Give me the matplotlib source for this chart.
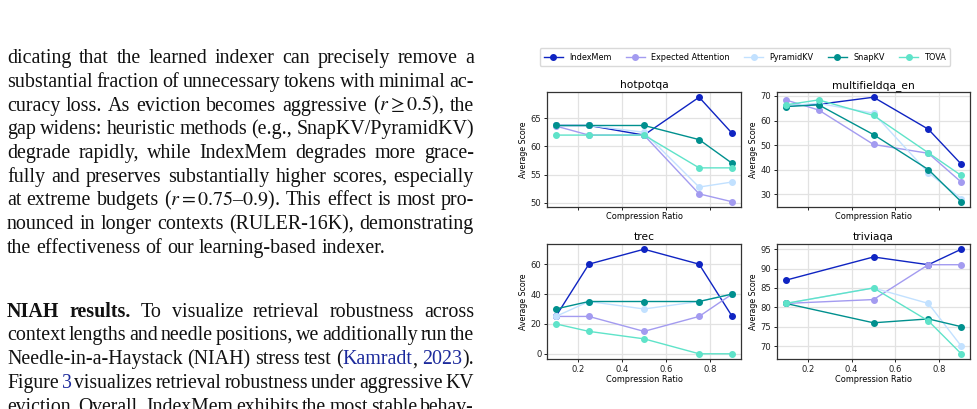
import re
import matplotlib
matplotlib.use("Agg")
import matplotlib.pyplot as plt
from matplotlib.lines import Line2D

# ---------------- data ----------------
methods = ["IndexMem", "Expected Attention", "PyramidKV", "SnapKV", "TOVA"]
colors = ["#0f24c2", "#a39bf0", "#c2e1ff", "#00908e", "#5fe3c9"]

x_main = [0.1, 0.25, 0.5, 0.75, 0.9]
x_trivia = [0.1, 0.5, 0.75, 0.9]

hotpotqa = {
    "IndexMem": [63.7, 63.7, 62.0, 68.7, 62.3],
    "Expected Attention": [63.6, 62.0, 62.0, 51.6, 50.2],
    "PyramidKV": [63.7, 63.7, 62.5, 52.8, 53.7],
    "SnapKV": [63.7, 63.7, 63.7, 61.2, 57.0],
    "TOVA": [62.0, 62.0, 62.0, 56.2, 56.2],
}
multifieldqa_en = {
    "IndexMem": [66.0, 66.6, 69.5, 56.5, 42.3],
    "Expected Attention": [68.4, 64.3, 50.3, 46.7, 35.0],
    "PyramidKV": [66.0, 67.0, 63.0, 38.8, 28.3],
    "SnapKV": [65.7, 66.4, 54.3, 40.1, 27.0],
    "TOVA": [66.4, 68.4, 62.1, 46.9, 37.7],
}
trec = {
    "IndexMem": [25, 60, 70, 60, 25],
    "Expected Attention": [25, 25, 15, 25, 40],
    "PyramidKV": [25, 35, 30, 35, 40],
    "SnapKV": [30, 35, 35, 35, 40],
    "TOVA": [20, 15, 10, 0, 0],
}
triviaqa = {
    "IndexMem": [87, 93, 91, 95],
    "Expected Attention": [81, 82, 91, 91],
    "PyramidKV": [81, 85, 81, 70],
    "SnapKV": [81, 76, 77, 75],
    "TOVA": [81, 85, 76.5, 68],
}

panels = [
    ("hotpotqa", x_main, hotpotqa),
    ("multifieldqa_en", x_main, multifieldqa_en),
    ("trec", x_main, trec),
    ("triviaqa", x_trivia, triviaqa),
]

para1 = [
    "dicating that the learned indexer can precisely remove a",
    "substantial fraction of unnecessary tokens with minimal ac-",
    r"curacy loss. As eviction becomes aggressive ($r\geq0.5$), the",
    "gap widens: heuristic methods (e.g., SnapKV/PyramidKV)",
    "degrade rapidly, while IndexMem degrades more grace-",
    "fully and preserves substantially higher scores, especially",
    r"at extreme budgets ($r=0.75$–$0.9$). This effect is most pro-",
    "nounced in longer contexts (RULER-16K), demonstrating",
    "the effectiveness of our learning-based indexer.",
]
para2 = [
    "[b]NIAH [b]results.  To visualize retrieval robustness across",
    "context lengths and needle positions, we additionally run the",
    "Needle-in-a-Haystack (NIAH) stress test ([c]Kamradt[k], [c]2023[k]).",
    "Figure [c]3[k] visualizes retrieval robustness under aggressive KV",
    "eviction. Overall, IndexMem exhibits the most stable behav-",
]

# ---------------- figure ----------------
W, H = 977, 409
plt.rcParams["mathtext.fontset"] = "stix"
fig = plt.figure(figsize=(W / 100, H / 100), dpi=100)
fig.patch.set_facecolor("white")


def px_rect(left, top, right, bottom):
    return [left / W, 1 - bottom / H, (right - left) / W, (bottom - top) / H]


rects = [
    px_rect(547, 92, 741, 207),
    px_rect(777, 92, 970, 207),
    px_rect(547, 244, 741, 359),
    px_rect(777, 244, 970, 359),
]

for i, ((title, xs, data), r) in enumerate(zip(panels, rects)):
    ax = fig.add_axes(r)
    for m, c in zip(methods, colors):
        ax.plot(xs, data[m], color=c, marker="o", markersize=4.0, linewidth=1.0,
                label=m)
    ax.set_xlim(0.06, 0.94)
    ax.set_xticks([0.2, 0.4, 0.6, 0.8])
    ax.grid(True, color="#e2e2e2", linewidth=0.9)
    ax.set_axisbelow(True)
    for s in ax.spines.values():
        s.set_color("#333333")
        s.set_linewidth(0.9)
    ax.tick_params(labelsize=6.1, length=2.5, width=0.7, pad=1.5, colors="#222222")
    ax.set_title(title, fontsize=7.7, pad=3)
    ax.set_ylabel("Average Score", fontsize=5.7, labelpad=2)
    ax.set_xlabel("Compression Ratio", fontsize=5.9, labelpad=1)
    if i < 2:
        ax.tick_params(labelbottom=False)

handles = [Line2D([], [], color=c, marker="o", markersize=4.0, linewidth=1.0)
           for c in colors]
fig.legend(handles, methods, loc="center", bbox_to_anchor=(745 / W, 1 - 57 / H),
           ncol=5, fontsize=5.9, frameon=True, edgecolor="#d0d0d0",
           handlelength=2.3, columnspacing=1.75, handletextpad=0.8,
           borderpad=0.5, fancybox=True)

# ---------------- body text (justified) ----------------
FS = 14.4
FAM = ["Liberation Serif", "DejaVu Serif"]
LEFT, RIGHT = 7, 474
renderer = fig.canvas.get_renderer()
LINK = "#1c2a9c"


def tokenize(line):
    toks, cur, inmath = [], "", False
    for ch in line:
        if ch == "$":
            inmath = not inmath
            cur += ch
        elif ch == " " and not inmath:
            if cur:
                toks.append(cur)
            cur = ""
        else:
            cur += ch
    if cur:
        toks.append(cur)
    return toks


def parse_word(tok):
    pieces = []
    weight = "normal"
    if tok.startswith("[b]"):
        weight = "bold"
        tok = tok[3:]
    parts = re.split(r"(\[c\]|\[k\])", tok)
    color = "#111111"
    for p in parts:
        if p == "[c]":
            color = LINK
        elif p == "[k]":
            color = "#111111"
        elif p:
            pieces.append((p, color, weight))
    return pieces


def layout_line(line, fs):
    words = [parse_word(t) for t in tokenize(line)]
    artists, widths = [], []
    for w in words:
        arts, tw = [], 0
        for (t, c, wt) in w:
            a = fig.text(0, 0, t, fontsize=fs, family=FAM, color=c, weight=wt,
                         va="baseline", ha="left")
            bb = a.get_window_extent(renderer)
            arts.append((a, bb.width))
            tw += bb.width
        artists.append(arts)
        widths.append(tw)
    return artists, widths


def draw_line(line, baseline, justify):
    fs = FS
    while True:
        artists, widths = layout_line(line, fs)
        n = len(widths)
        gap = (RIGHT - LEFT - sum(widths)) / max(n - 1, 1)
        if not justify or gap >= 2.6 or fs < 12:
            break
        for arts in artists:
            for a, _ in arts:
                a.remove()
        fs -= 0.2
    if not justify:
        gap = fs * 100 / 72 * 0.25
    x = LEFT
    for arts, tw in zip(artists, widths):
        xx = x
        for a, wdt in arts:
            a.set_position((xx / W, 1 - baseline / H))
            xx += wdt
        x += tw + gap


for i, line in enumerate(para1):
    draw_line(line, 63.3 + 23.7 * i, justify=(i < len(para1) - 1))
for i, line in enumerate(para2):
    draw_line(line, 316.7 + 23.7 * i, justify=True)

fig.savefig("out.png", dpi=100)
